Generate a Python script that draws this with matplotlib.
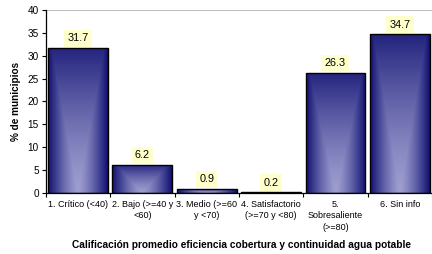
import numpy as np
import matplotlib
matplotlib.use("Agg")
import matplotlib.pyplot as plt
from matplotlib.patches import Rectangle

plt.rcParams['font.family'] = ['Liberation Sans', 'DejaVu Sans']

# datos
categorias = ["1. Crítico (<40)", "2. Bajo (>=40 y\n<60)", "3. Medio (>=60\ny <70)",
              "4. Satisfactorio\n(>=70 y <80)", "5.\nSobresaliente\n(>=80)", "6. Sin info"]
valores = [31.7, 6.2, 0.9, 0.2, 26.3, 34.7]
yticks = [0, 5, 10, 15, 20, 25, 30, 35, 40]

fig = plt.figure(figsize=(4.32, 2.54), dpi=100)
ax = fig.add_axes([0.106, 0.240, 0.894, 0.721])

x = np.arange(len(valores))
ancho = 0.93

# degradado: oscuro en bordes y arriba, claro al centro
oscuro = np.array([0.07, 0.07, 0.45])
claro = np.array([0.62, 0.62, 0.82])
nx, ny = 60, 120
gx = np.abs(np.linspace(-1, 1, nx))[None, :]
gy = np.linspace(0, 1, ny)[:, None]
t = np.maximum(gx, gy * 0.9)
t = np.clip(t, 0, 1) ** 1.3
img = oscuro[None, None, :] * t[:, :, None] + claro[None, None, :] * (1 - t[:, :, None])

bars = ax.bar(x, valores, width=ancho, color='none', edgecolor='black', linewidth=1.0, zorder=3)
for b in bars:
    x0, y0 = b.get_x(), b.get_y()
    w, h = b.get_width(), b.get_height()
    if h <= 0:
        continue
    im = ax.imshow(img, extent=[x0, x0 + w, y0, y0 + h], origin='lower',
                   aspect='auto', zorder=2, interpolation='bilinear')
    clip = Rectangle((x0, y0), w, h, transform=ax.transData)
    im.set_clip_path(clip)

for xi, v in zip(x, valores):
    ax.annotate(f"{v:.1f}", (xi, v), xytext=(0, 6.8), textcoords='offset points',
                ha='center', va='center', fontsize=7.8,
                bbox=dict(boxstyle='square,pad=0.3', fc='#ffffcc', ec='none'))

ax.axhline(40, color='#b0b0b0', linewidth=1.2, zorder=1)
ax.set_xlim(-0.5, len(valores) - 0.5)
ax.set_ylim(0, 40)
ax.set_yticks(yticks)
ax.tick_params(axis='y', labelsize=7.2, length=3, width=0.8, pad=2)

ax.set_xticks(np.arange(len(valores) + 1) - 0.5)
ax.set_xticklabels([])
ax.set_xticks(x, minor=True)
ax.set_xticklabels(categorias, minor=True, fontsize=6.5, linespacing=1.35)
ax.tick_params(axis='x', which='major', length=3, width=0.8)
ax.tick_params(axis='x', which='minor', length=0, pad=5)

for s in ['top', 'right']:
    ax.spines[s].set_visible(False)
ax.spines['left'].set_linewidth(0.9)
ax.spines['bottom'].set_linewidth(0.9)

ax.set_ylabel("% de municipios", fontsize=7.2, fontweight='bold', labelpad=5)
fig.text(0.558, 0.037, "Calificación promedio eficiencia cobertura y continuidad agua potable",
         ha='center', va='center', fontsize=7.25, fontweight='bold')

fig.savefig("out.png", dpi=100)
